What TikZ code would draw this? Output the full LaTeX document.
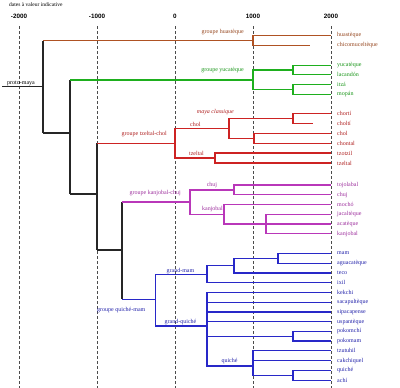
\documentclass[tikz,border=0pt]{standalone}
\usepackage{fontspec}
\setmainfont{Liberation Serif}
\setsansfont{Liberation Sans}
\usetikzlibrary{positioning,calc}
\definecolor{huaColor}{RGB}{175,82,35}
\definecolor{yucColor}{RGB}{30,175,30}
\definecolor{tzeColor}{RGB}{205,35,35}
\definecolor{kanColor}{RGB}{185,55,185}
\definecolor{quiColor}{RGB}{40,40,200}

\begin{document}
\begin{tikzpicture}[
    x=1pt, y=-1pt,
    leaf/.style={anchor=west, inner xsep=6pt, inner ysep=0pt, text=#1!85!black, font=\fontsize{6}{7}\selectfont},
    grp/.style={inner sep=0pt, text=#1!85!black, font=\fontsize{6}{7}\selectfont},
    year/.style={inner sep=0pt, font=\sffamily\bfseries\fontsize{6.3}{7}\selectfont},
    guide/.style={black!70, densely dashed, line width=0.6pt},
    trunk/.style={black!85, line width=1.4pt},
    branch/.style={#1, line width=1.4pt}
]
\useasboundingbox (0,0) rectangle (400,388);
\coordinate (base) at (0,388);

% Time axis
\node[font=\fontsize{5.5}{6}\selectfont, anchor=west, inner sep=0pt] (title) at (9,5) {dates à valeur indicative};
\node[year] (ym2000) at (19,16) {-2000};
\node[year] (ym1000) at (97,16) {-1000};
\node[year] (y0) at (175,16) {0};
\node[year] (y1000) at (253,16) {1000};
\node[year] (y2000) at (331,16) {2000};
\coordinate (tm2000) at (19,26);
\coordinate (tm1000) at (97,26);
\coordinate (t0) at (175,26);
\coordinate (t1000) at (253,26);
\coordinate (t2000) at (331,26);
\draw[guide] (tm2000) -- (tm2000 |- base);
\draw[guide] (tm1000) -- (tm1000 |- base);
\draw[guide] (t0) -- (t0 |- base);
\draw[guide] (t1000) -- (t1000 |- base);
\draw[guide] (t2000) -- (t2000 |- base);

% Leaves - huastec
\node[leaf=huaColor] (huastec) at (331,35.5) {huastèque};
\node[leaf=huaColor] (chicomu) at (331,45.5) {chicomuceltèque};
\coordinate (chicomu-end) at (310,45.5);

% Leaves - yucatec
\node[leaf=yucColor] (yucatec) at (331,65.3) {yucatèque};
\node[leaf=yucColor] (lacandon) at (331,74.7) {lacandón};
\node[leaf=yucColor] (itza) at (331,84.3) {itzá};
\node[leaf=yucColor] (mopan) at (331,94.3) {mopán};

% Leaves - tzeltal-chol
\node[leaf=tzeColor] (chorti) at (331,113.5) {chortí};
\node[leaf=tzeColor] (cholti) at (331,123.5) {choltí};
\coordinate (cholti-end) at (313,123.5);
\node[leaf=tzeColor] (chol) at (331,133.5) {chol};
\node[leaf=tzeColor] (chontal) at (331,143.3) {chontal};
\node[leaf=tzeColor] (tzotzil) at (331,153) {tzotzil};
\node[leaf=tzeColor] (tzeltal) at (331,163) {tzeltal};

% Leaves - kanjobal-chuj
\node[leaf=kanColor] (tojolabal) at (331,185) {tojolabal};
\node[leaf=kanColor] (chuj) at (331,194.7) {chuj};
\node[leaf=kanColor] (mocho) at (331,204.3) {mochó};
\node[leaf=kanColor] (jacaltec) at (331,214.3) {jacaltèque};
\node[leaf=kanColor] (acatec) at (331,224) {acatèque};
\node[leaf=kanColor] (kanjobal) at (331,233.7) {kanjobal};

% Leaves - quiche-mam
\node[leaf=quiColor] (mam) at (331,253.5) {mam};
\node[leaf=quiColor] (aguacatec) at (331,263.3) {aguacatèque};
\node[leaf=quiColor] (teco) at (331,273) {teco};
\node[leaf=quiColor] (ixil) at (331,282.7) {ixil};
\node[leaf=quiColor] (kekchi) at (331,292.3) {kekchi};
\node[leaf=quiColor] (sacapultec) at (331,302.2) {sacapultèque};
\node[leaf=quiColor] (sipacapense) at (331,312) {sipacapense};
\node[leaf=quiColor] (uspantec) at (331,321.7) {uspantèque};
\node[leaf=quiColor] (pokomchi) at (331,331.3) {pokomchí};
\node[leaf=quiColor] (pokomam) at (331,341) {pokomam};
\node[leaf=quiColor] (tzutuhil) at (331,350.7) {tzutuhil};
\node[leaf=quiColor] (cakchiquel) at (331,360.7) {cakchiquel};
\node[leaf=quiColor] (quiche) at (331,370.3) {quiché};
\node[leaf=quiColor] (achi) at (331,380.2) {achí};

% Inner nodes
\coordinate (proto) at (2,86.7);
\coordinate (root) at (43,86.7);
\coordinate (n2) at (70,133);
\coordinate (n3) at (97,194);
\coordinate (n4) at (122,250);
\coordinate (hua) at (253,40.5);
\coordinate (yuc) at (253,80);
\coordinate (yucA) at (293,70);
\coordinate (yucB) at (293,89.3);
\coordinate (tze) at (175,143.3);
\coordinate (cholan) at (229,128.3);
\coordinate (classic) at (293,118.5);
\coordinate (cholchont) at (254,138.4);
\coordinate (tzeltalan) at (215,158);
\coordinate (kan) at (190,202);
\coordinate (chujan) at (234,190);
\coordinate (kanjob) at (224,214.3);
\coordinate (jacal) at (266,224);
\coordinate (qm) at (155.7,299.3);
\coordinate (grandmam) at (207,274.5);
\coordinate (mamteco) at (234,265.5);
\coordinate (mamagua) at (278,258.3);
\coordinate (grandqui) at (207,326);
\coordinate (pokom) at (293,336.2);
\coordinate (quichean) at (253,366);
\coordinate (quiachi) at (293,375.3);

% Trunk
\draw[trunk] (proto) -- (root);
\draw[trunk] (root |- hua) -- (root |- n2);
\draw[trunk] (n2) -- (root |- n2);
\draw[trunk] (n2 |- yuc) -- (n2 |- n3);
\draw[trunk] (n3) -- (n2 |- n3);
\draw[trunk] (n3 |- tze) -- (n3 |- n4);
\draw[trunk] (n4) -- (n3 |- n4);
\draw[trunk] (n4 |- kan) -- (n4 |- qm);

% Branches - huastec
\draw[branch=huaColor] (hua) -- (root |- hua);
\draw[branch=huaColor] (huastec.west) -| (hua) |- (chicomu-end);

% Branches - yucatec
\draw[branch=yucColor] (yuc) -- (n2 |- yuc);
\draw[branch=yucColor] (yucA) -| (yuc) |- (yucB);
\draw[branch=yucColor] (yucatec.west) -| (yucA) |- (lacandon.west);
\draw[branch=yucColor] (itza.west) -| (yucB) |- (mopan.west);

% Branches - tzeltal-chol
\draw[branch=tzeColor] (tze) -- (n3 |- tze);
\draw[branch=tzeColor] (cholan) -| (tze) |- (tzeltalan);
\draw[branch=tzeColor] (classic) -| (cholan) |- (cholchont);
\draw[branch=tzeColor] (chorti.west) -| (classic) |- (cholti-end);
\draw[branch=tzeColor] (chol.west) -| (cholchont) |- (chontal.west);
\draw[branch=tzeColor] (tzotzil.west) -| (tzeltalan) |- (tzeltal.west);

% Branches - kanjobal-chuj
\draw[branch=kanColor] (kan) -- (n4 |- kan);
\draw[branch=kanColor] (chujan) -| (kan) |- (kanjob);
\draw[branch=kanColor] (tojolabal.west) -| (chujan) |- (chuj.west);
\draw[branch=kanColor] (mocho.west) -| (kanjob) |- (jacal);
\draw[branch=kanColor] (jacaltec.west) -| (jacal) |- (kanjobal.west);
\draw[branch=kanColor] (acatec.west) -- (jacal);

% Branches - quiche-mam
\draw[branch=quiColor] (qm) -- (n4 |- qm);
\draw[branch=quiColor] (grandmam) -| (qm) |- (grandqui);
\draw[branch=quiColor] (mamteco) -| (grandmam) |- (ixil.west);
\draw[branch=quiColor] (mamagua) -| (mamteco) |- (teco.west);
\draw[branch=quiColor] (mam.west) -| (mamagua) |- (aguacatec.west);
\draw[branch=quiColor] (kekchi.west) -| (grandqui) |- (quichean);
\draw[branch=quiColor] (sacapultec.west) -- (grandqui |- sacapultec.west);
\draw[branch=quiColor] (sipacapense.west) -- (grandqui |- sipacapense.west);
\draw[branch=quiColor] (uspantec.west) -- (grandqui |- uspantec.west);
\draw[branch=quiColor] (pokom) -- (grandqui |- pokom);
\draw[branch=quiColor] (pokomchi.west) -| (pokom) |- (pokomam.west);
\draw[branch=quiColor] (tzutuhil.west) -| (quichean) |- (quiachi);
\draw[branch=quiColor] (cakchiquel.west) -- (quichean |- cakchiquel.west);
\draw[branch=quiColor] (quiche.west) -| (quiachi) |- (achi.west);

% Labels
\node[font=\fontsize{6}{7}\selectfont, inner sep=0pt] (lproto) at (21,83.3) {proto-maya};
\node[grp=huaColor, anchor=east] (lhua) at (244,32) {groupe huastèque};
\node[grp=yucColor, anchor=east] (lyuc) at (244,70) {groupe yucatèque};
\node[grp=tzeColor, anchor=east] (ltze) at (167,134) {groupe tzeltal-chol};
\node[grp=tzeColor, anchor=east, font=\itshape\fontsize{6}{7}\selectfont] (lclassic) at (234,112.3) {maya classique};
\node[grp=tzeColor, anchor=west] (lchol) at (190,124) {chol};
\node[grp=tzeColor, anchor=east] (ltzeltal) at (204,153.5) {tzeltal};
\node[grp=kanColor, anchor=east] (lkan) at (181,192.7) {groupe kanjobal-chuj};
\node[grp=kanColor] (lchuj) at (212,185) {chuj};
\node[grp=kanColor, anchor=east] (lkanjob) at (223,209.3) {kanjobal};
\node[grp=quiColor, anchor=west] (lqm) at (97,310) {groupe quiché-mam};
\node[grp=quiColor] (lgrandmam) at (180.5,271) {grand-mam};
\node[grp=quiColor] (lgrandqui) at (180.5,321.7) {grand-quiché};
\node[grp=quiColor] (lquiche) at (229.5,361) {quiché};

\end{tikzpicture}
\end{document}
